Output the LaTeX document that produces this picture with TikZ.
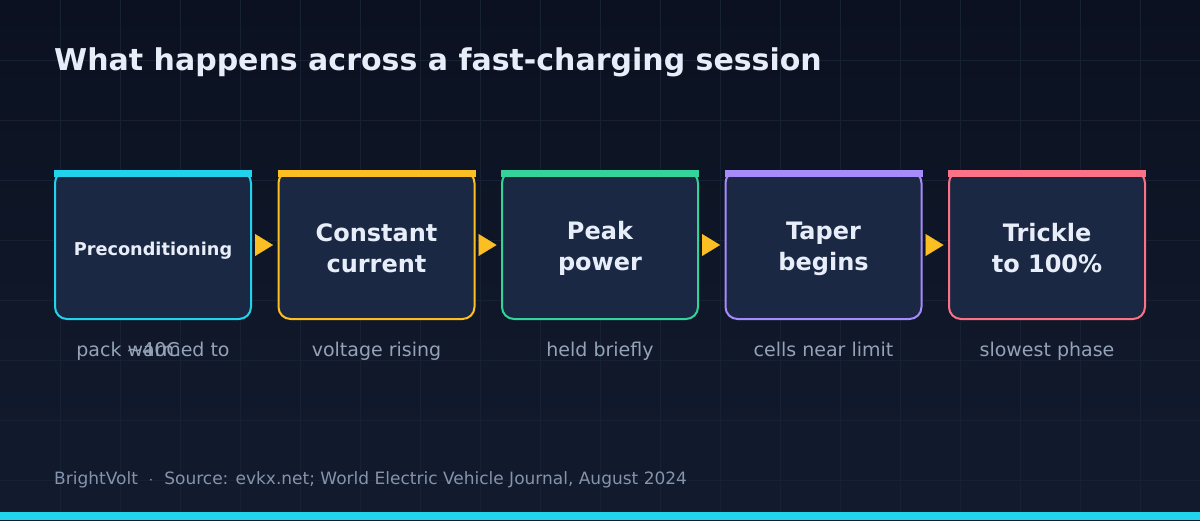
\documentclass[tikz,border=0pt]{standalone}
\usepackage{fontspec}
\setmainfont{DejaVu Sans}
\usetikzlibrary{arrows.meta,
                chains,
                positioning}

\definecolor{bgtop}{HTML}{0B1120}
\definecolor{bgbot}{HTML}{121B2E}
\definecolor{gridcol}{HTML}{162134}
\definecolor{boxfill}{HTML}{1B2843}
\definecolor{titlecol}{HTML}{E8EEF9}
\definecolor{notecol}{HTML}{94A3B8}
\definecolor{footcol}{HTML}{8593AC}
\definecolor{cyanc}{HTML}{22D3EE}
\definecolor{amberc}{HTML}{FBBF24}
\definecolor{greenc}{HTML}{34D399}
\definecolor{purplec}{HTML}{A78BFA}
\definecolor{rosec}{HTML}{FB7185}

\begin{document}
\begin{tikzpicture}[x=1pt, y=-1pt,
node distance= 27.5pt,
     start chain = going right,
     base/.style = {fill=boxfill, line width=2pt, rounded corners=12pt,
                    minimum width=196pt, minimum height=148pt,
                    inner sep=0pt, outer sep=0pt, align=center,
                    text=titlecol, on chain},
    phase/.style = {base, draw=#1, text height=56pt,
                    font=\bfseries\fontsize{24}{31}\selectfont},
    small/.style = {base, draw=#1, text height=25pt,
                    font=\bfseries\fontsize{17.7}{20}\selectfont},
     note/.style = {text=notecol, inner sep=0pt, text height=14pt, text depth=4pt,
                    font=\fontsize{19}{22}\selectfont},
    arrow/.style = {-{Triangle[length=18pt, width=22pt]}, draw=amberc, fill=amberc,
                    line width=0.1pt, shorten <=4pt, shorten >=5.5pt},
  gridline/.style = {draw=gridcol, line width=1pt}
                    ]
\useasboundingbox (0,0) rectangle (1200,520);
\shade[top color=bgtop, bottom color=bgbot] (0,0) rectangle (1200,520);
\foreach \gx in {60,120,...,1140} \draw[gridline] (\gx,0) -- (\gx,520);
\foreach \gy in {60,120,...,480} \draw[gridline] (0,\gy) -- (1200,\gy);

\node (title) [anchor=base west, text=titlecol, inner sep=0pt,
               font=\bfseries\fontsize{30}{36}\selectfont] at (54,70)
      {What happens across a fast-charging session};
 % main
\node (pre)     [small=cyanc, at={(153,245)}] {Preconditioning};
\node (cc)      [phase=amberc]  {Constant\\current};
\node (peak)    [phase=greenc]  {Peak\\power};
\node (taper)   [phase=purplec] {Taper\\begins};
\node (trickle) [phase=rosec]   {Trickle\\to 100\%};
% top bars
\foreach \b/\c in {pre/cyanc, cc/amberc, peak/greenc, taper/purplec, trickle/rosec}
  \fill[\c] ([shift={(-1pt,1pt)}]\b.north west) rectangle ([shift={(1pt,-6pt)}]\b.north east);

\draw[arrow] (pre) -- (cc);
\draw[arrow] (cc) -- (peak);
\draw[arrow] (peak) -- (taper);
\draw[arrow] (taper) -- (trickle);
% captions
\node (n1a) [note, below=23pt of pre]     {pack warmed to};
\node (n1b) [note, below=23pt of pre]     {\textasciitilde{}40C};
\node (n2)  [note, below=23pt of cc]      {voltage rising};
\node (n3)  [note, below=23pt of peak]    {held briefly};
\node (n4)  [note, below=23pt of taper]   {cells near limit};
\node (n5)  [note, below=23pt of trickle] {slowest phase};

\node (foot) [anchor=base west, text=footcol, inner sep=0pt,
              font=\fontsize{17}{20}\selectfont] at (54,484)
      {BrightVolt \ $\cdot$ \ Source: evkx.net; World Electric Vehicle Journal, August 2024};
\fill[cyanc] (0,512) rectangle (1200,520);
\end{tikzpicture}
\end{document}
